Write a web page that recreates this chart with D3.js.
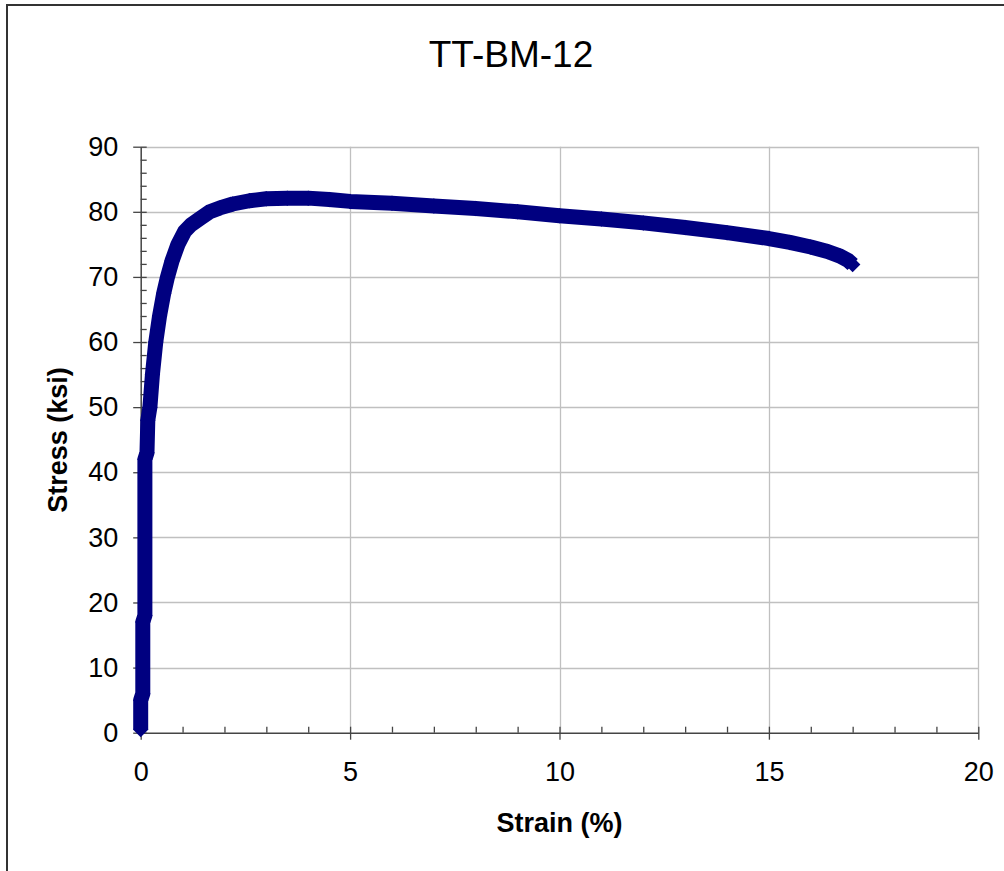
<!DOCTYPE html>
<html><head><meta charset="utf-8">
<script src="https://cdn.jsdelivr.net/npm/d3@7"></script>
<style>html,body{margin:0;padding:0;background:#fff;}svg{display:block;}</style>
</head><body>
<script>
const title = "TT-BM-12";
const xLabel = "Strain (%)";
const yLabel = "Stress (ksi)";
const xTicks = [0, 5, 10, 15, 20];
const yTicks = [0, 10, 20, 30, 40, 50, 60, 70, 80, 90];
const strain = [0, 0, 0.05, 0.05, 0.1, 0.1, 0.15, 0.17, 0.22, 0.28, 0.36, 0.45, 0.55, 0.64, 0.75, 0.89, 1.05, 1.2, 1.42, 1.65, 1.89, 2.2, 2.6, 3.0, 3.5, 4.0, 4.5, 5, 6, 7, 8, 9, 10, 11, 12, 13, 14, 15, 15.5, 16, 16.4, 16.7, 16.9, 17.0];
const stress = [0.5, 5, 6, 17, 18, 42, 43, 48, 50, 55, 60, 64, 67.5, 70, 72.5, 75, 77, 78, 79, 80, 80.6, 81.2, 81.7, 82.0, 82.1, 82.1, 81.9, 81.6, 81.3, 80.9, 80.5, 80.0, 79.4, 78.9, 78.3, 77.6, 76.8, 75.9, 75.3, 74.6, 73.9, 73.2, 72.5, 71.9];

const W = 1004, H = 871;
const svg = d3.select("body").append("svg").attr("width", W).attr("height", H);
svg.append("rect").attr("x", 7).attr("y", 5).attr("width", 1100).attr("height", 1000)
  .attr("fill", "none").attr("stroke", "#333").attr("stroke-width", 2);

const x = d3.scaleLinear().domain([0, 20]).range([140.7, 978.3]);
const y = d3.scaleLinear().domain([0, 90]).range([732.7, 146.7]);
const font = "'Liberation Sans', Arial, sans-serif";

// gridlines
svg.append("g").selectAll("line").data(yTicks.filter(d => d > 0)).join("line")
  .attr("x1", x(0)).attr("x2", x(20)).attr("y1", d => Math.round(y(d)) + 0.5).attr("y2", d => Math.round(y(d)) + 0.5)
  .attr("stroke", "#c0c0c0").attr("stroke-width", 1.3);
svg.append("g").selectAll("line").data(xTicks.filter(d => d > 0)).join("line")
  .attr("y1", y(0)).attr("y2", y(90)).attr("x1", d => Math.round(x(d)) + 0.5).attr("x2", d => Math.round(x(d)) + 0.5)
  .attr("stroke", "#c0c0c0").attr("stroke-width", 1.3);

// axes
const axCol = "#444";
const yMinor = d3.range(0, 91, 2).filter(v => v % 10 !== 0);
const xMinor = d3.range(0, 21, 1).filter(v => v % 5 !== 0);
const gy = svg.append("g").attr("transform", `translate(${x(0)},0)`);
gy.call(d3.axisLeft(y).tickValues(yMinor).tickSize(-6).tickFormat(""));
gy.call(g => g.selectAll(".tick line").attr("stroke", axCol).attr("stroke-width", 1.3));
gy.select(".domain").remove();
const gyM = svg.append("g").attr("transform", `translate(${x(0)},0)`);
gyM.call(d3.axisLeft(y).tickValues(yTicks).tickSizeInner(7.5).tickSizeOuter(0).tickPadding(15));
gyM.selectAll(".tick line").attr("x2", -7.5).attr("x1", 6).attr("stroke", axCol).attr("stroke-width", 1.3);
gyM.select(".domain").attr("stroke", axCol).attr("stroke-width", 1.5);
gyM.selectAll(".tick text").attr("font-family", font).attr("font-size", 27).attr("fill", "#000");

const gx = svg.append("g").attr("transform", `translate(0,${y(0)})`);
gx.call(d3.axisBottom(x).tickValues(xMinor).tickSize(-6).tickFormat(""));
gx.selectAll(".tick line").attr("stroke", axCol).attr("stroke-width", 1.3);
gx.select(".domain").remove();
const gxM = svg.append("g").attr("transform", `translate(0,${y(0)})`);
gxM.call(d3.axisBottom(x).tickValues(xTicks).tickSizeInner(7).tickSizeOuter(0).tickPadding(22));
gxM.selectAll(".tick line").attr("y1", -6).attr("y2", 7).attr("stroke", axCol).attr("stroke-width", 1.3);
gxM.select(".domain").attr("stroke", axCol).attr("stroke-width", 1.5);
gxM.selectAll(".tick text").attr("font-family", font).attr("font-size", 27).attr("fill", "#000");

// data series
const pts = strain.map((s, i) => [s, stress[i]]);
svg.append("path").datum(pts)
  .attr("d", d3.line().x(d => x(d[0])).y(d => y(d[1])))
  .attr("fill", "none").attr("stroke", "#000080").attr("stroke-width", 15)
  .attr("stroke-linejoin", "round").attr("stroke-linecap", "butt");
svg.append("g").selectAll("path").data(pts).join("path")
  .attr("transform", d => `translate(${x(d[0])},${y(d[1])}) rotate(45)`)
  .attr("d", d3.symbol().type(d3.symbolSquare).size(120))
  .attr("fill", "#000080");

// titles
svg.append("text").attr("x", 511).attr("y", 67).attr("text-anchor", "middle")
  .attr("font-family", font).attr("font-size", 37).text(title);
svg.append("text").attr("x", 559.5).attr("y", 832).attr("text-anchor", "middle")
  .attr("font-family", font).attr("font-size", 27).attr("font-weight", "bold").text(xLabel);
svg.append("text").attr("transform", "translate(67,440) rotate(-90)").attr("text-anchor", "middle")
  .attr("font-family", font).attr("font-size", 27).attr("font-weight", "bold").text(yLabel);
</script>
</body></html>
